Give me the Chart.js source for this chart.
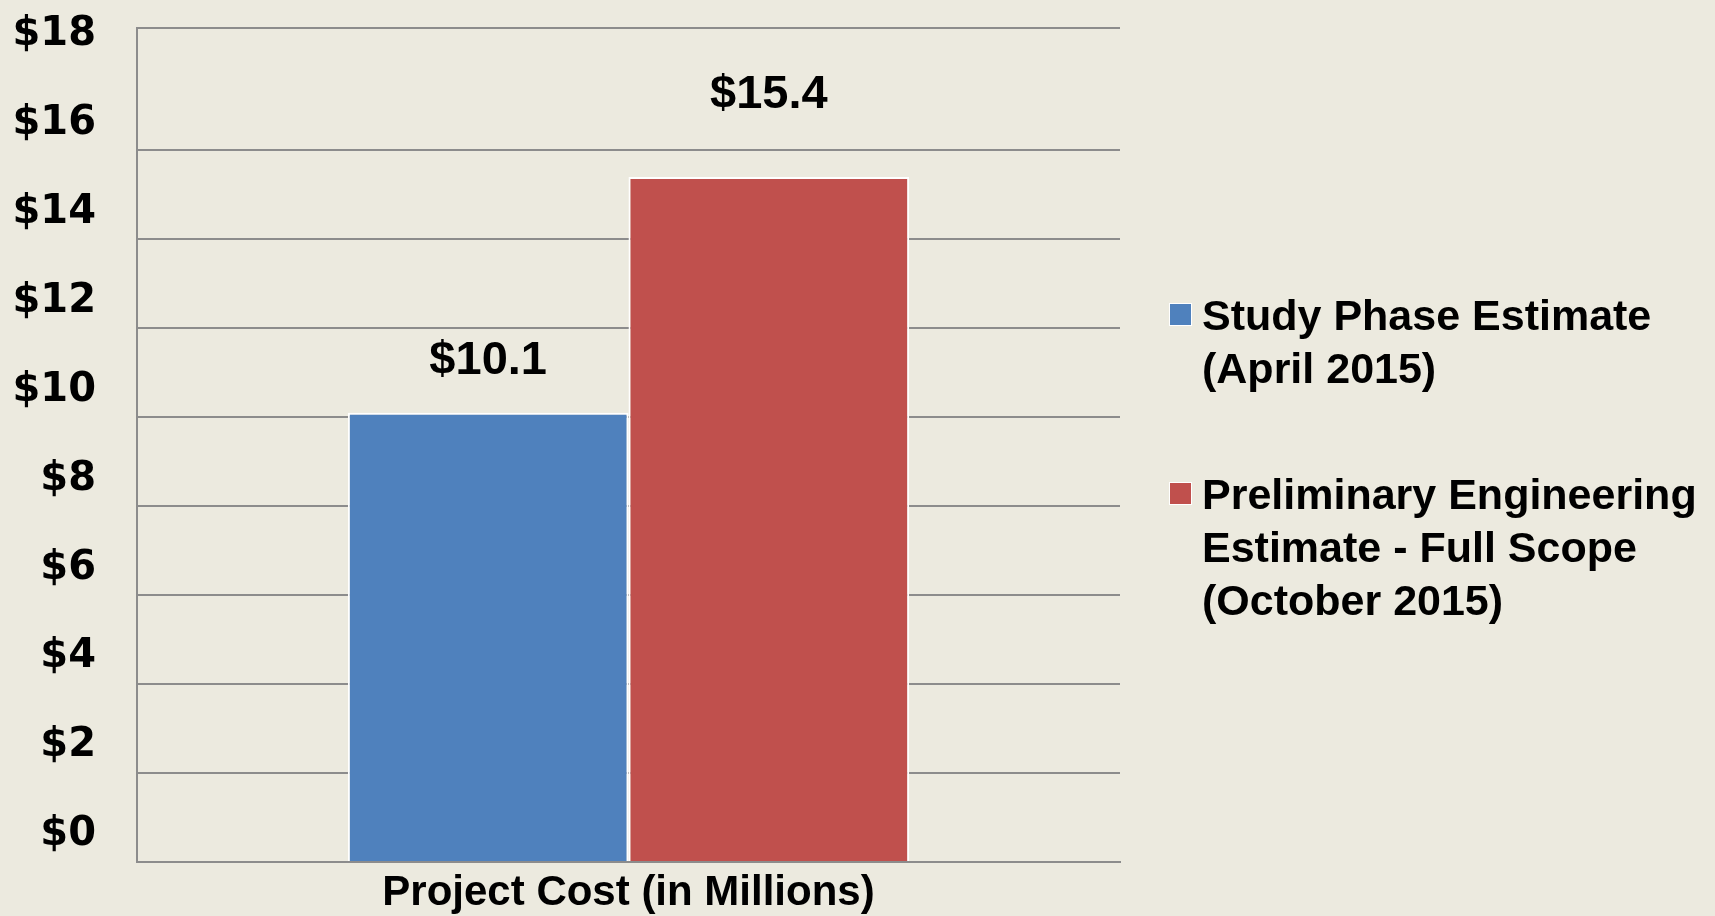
<!DOCTYPE html>
<html>
<head>
<meta charset="utf-8">
<script src="https://cdn.jsdelivr.net/npm/chart.js@4.4.1/dist/chart.umd.min.js"></script>
<style>
  body { margin: 0; background: #eceadf; }
  #wrap { position: relative; width: 1715px; height: 916px; }
  #legend {
    position: absolute; left: 1169px; top: 289px;
    font-family: "Liberation Sans", Arial, sans-serif; font-weight: bold;
    font-size: 43px; line-height: 53px; color: #000;
  }
  .item { display: flex; align-items: flex-start; margin-bottom: 73px; }
  .box { width: 21px; height: 21px; border: 1.5px solid #fff; margin-top: 14px; margin-right: 10px; flex: none; }
</style>
</head>
<body>
<div id="wrap">
  <canvas id="costChart"></canvas>
  <div id="legend"></div>
</div>
<script>
const categories = ['Project Cost (in Millions)'];
const seriesLabels = [
  ['Study Phase Estimate', '(April 2015)'],
  ['Preliminary Engineering', 'Estimate - Full Scope', '(October 2015)']
];
const studyPhase = [10.1];
const prelimEngineering = [15.4];
const yTickValues = [0, 2, 4, 6, 8, 10, 12, 14, 16, 18];
const yTickLabels = ['$0', '$2', '$4', '$6', '$8', '$10', '$12', '$14', '$16', '$18'];
const yMax = 18.75;

const colors = ['#4f81bd', '#c0504d'];
const labelGaps = [52, 82];

// value labels above each bar
const valueLabels = {
  id: 'valueLabels',
  afterDatasetsDraw(chart) {
    const ctx = chart.ctx;
    ctx.save();
    ctx.font = 'bold 47px "Liberation Sans", Arial, sans-serif';
    ctx.fillStyle = '#000';
    ctx.textAlign = 'center';
    ctx.textBaseline = 'middle';
    chart.data.datasets.forEach((ds, i) => {
      chart.getDatasetMeta(i).data.forEach((bar, j) => {
        ctx.fillText('$' + ds.data[j].toFixed(1), bar.x, bar.y - labelGaps[i]);
      });
    });
    ctx.restore();
  }
};

const chart = new Chart(document.getElementById('costChart'), {
  type: 'bar',
  data: {
    labels: categories,
    datasets: [
      { label: seriesLabels[0].join(' '), data: studyPhase, backgroundColor: colors[0] },
      { label: seriesLabels[1].join(' '), data: prelimEngineering, backgroundColor: colors[1] }
    ]
  },
  options: {
    responsive: true,
    maintainAspectRatio: false,
    animation: false,
    categoryPercentage: 0.571,
    barPercentage: 1.0,
    datasets: {
      bar: { borderColor: '#ffffff', borderWidth: 2, borderSkipped: 'bottom' }
    },
    layout: { padding: { top: 28, right: 595, left: 0, bottom: 0 } },
    plugins: {
      legend: { display: false },
      tooltip: { enabled: false }
    },
    scales: {
      x: {
        grid: { display: false, drawTicks: false },
        border: { display: true, color: '#8c8c8c', width: 2 },
        ticks: {
          color: '#000',
          padding: 6,
          font: { family: '"Liberation Sans", Arial, sans-serif', size: 42, weight: 'bold' }
        },
        afterFit(scale) { scale.height = 54; }
      },
      y: {
        min: 0,
        max: yMax,
        afterBuildTicks(scale) {
          scale.ticks = yTickValues.concat([yMax]).map(value => ({ value }));
        },
        grid: {
          drawTicks: false,
          lineWidth: 2,
          color: (c) => (c.tick && c.tick.value === 18) ? 'rgba(0,0,0,0)' : '#8c8c8c'
        },
        border: { display: true, color: '#8c8c8c', width: 2 },
        ticks: {
          padding: 41,
          labelOffset: -27,
          color: '#000',
          font: { family: '"DejaVu Sans", sans-serif', size: 40, weight: 'bold' },
          callback: (v, i) => yTickLabels[i] ?? ''
        },
        afterFit(scale) {
          scale.width = 137;
          scale.paddingTop = 0;
          scale.paddingBottom = 0;
        }
      }
    }
  },
  plugins: [valueLabels]
});

// legend with wrapped lines, built from the series
const legendEl = document.getElementById('legend');
seriesLabels.forEach((lines, i) => {
  const item = document.createElement('div');
  item.className = 'item';
  const box = document.createElement('div');
  box.className = 'box';
  box.style.background = colors[i];
  const txt = document.createElement('div');
  txt.innerHTML = lines.join('<br>');
  item.appendChild(box);
  item.appendChild(txt);
  legendEl.appendChild(item);
});
</script>
</body>
</html>
